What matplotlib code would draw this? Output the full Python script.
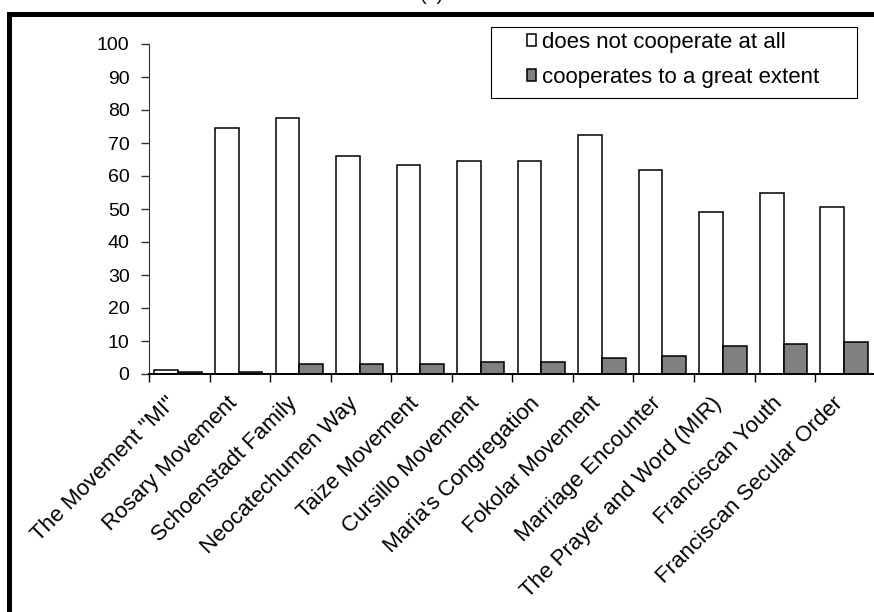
import matplotlib
matplotlib.use('Agg')
import matplotlib.pyplot as plt
import matplotlib.transforms as mtransforms
from matplotlib.patches import Rectangle
import numpy as np

plt.rcParams['font.family'] = ['Liberation Sans', 'DejaVu Sans']

movements = ['The Movement "MI"', 'Rosary Movement', 'Schoenstadt Family',
             'Neocatechumen Way', 'Taize Movement', 'Cursillo Movement',
             "Maria's Congregation", 'Fokolar Movement', 'Marriage Encounter',
             'The Prayer and Word (MIR)', 'Franciscan Youth', 'Franciscan Secular Order']
not_at_all = [1.2, 74.5, 77.5, 66.2, 63.2, 64.5, 64.5, 72.3, 61.9, 49.2, 54.7, 50.5]
great_extent = [0.7, 0.6, 3.0, 3.0, 3.0, 3.6, 3.6, 4.7, 5.4, 8.5, 9.1, 9.7]
series_names = ['does not cooperate at all', 'cooperates to a great extent']

W, H = 874, 612
fig = plt.figure(figsize=(W / 100, H / 100), dpi=100)
ax = fig.add_axes([149 / W, 1 - 374 / H, (875.6 - 149) / W, (374 - 44) / H])

x = np.arange(len(movements))
bw = 0.39
ax.bar(x - 0.215, not_at_all, bw, color='white', edgecolor='black', linewidth=1.1,
       label=series_names[0])
ax.bar(x + 0.175, great_extent, bw, color='#808080', edgecolor='black', linewidth=1.1,
       label=series_names[1])

ax.set_xlim(-0.5, len(movements) - 0.5)
ax.set_ylim(0, 100)
ax.set_yticks(range(0, 101, 10))
ax.tick_params(axis='y', direction='out', length=6, width=1, labelsize=14, pad=8,
               color='#333333')

# category names sit on the major ticks, the short tick marks are minor ticks between groups
ax.set_xticks(x)
ax.set_xticklabels(movements, rotation=45, ha='right', va='center',
                   rotation_mode='anchor', fontsize=16)
ax.tick_params(axis='x', which='major', length=0, pad=19)
shift = mtransforms.ScaledTranslation(-6 / 100, 0, fig.dpi_scale_trans)
for lab in ax.get_xticklabels():
    lab.set_transform(lab.get_transform() + shift)
ax.set_xticks(np.arange(-0.5, len(movements), 1), minor=True)
ax.tick_params(axis='x', which='minor', direction='out', length=6, width=1)

for s in ['top', 'right']:
    ax.spines[s].set_visible(False)
ax.spines['left'].set_color('#333333')
ax.spines['left'].set_linewidth(0.8)
ax.spines['bottom'].set_linewidth(1.4)

# legend entries without frame, box drawn separately (it is wider than the text)
leg = ax.legend(loc='upper left', bbox_to_anchor=(527 / W, 1 - 32 / H),
                bbox_transform=fig.transFigure, fontsize=16, frameon=False,
                handlelength=0.42, handleheight=0.42, handletextpad=0.27,
                labelspacing=0.62, borderpad=0, borderaxespad=0)
fig.add_artist(Rectangle((491 / W, 1 - 98 / H), 366 / W, 71 / H, transform=fig.transFigure,
                         fill=False, edgecolor='black', linewidth=0.8))

# outer chart frame and the panel title, which is cut off at the top in the original
fig.add_artist(Rectangle((8.5 / W, -0.1), 1.1, 1.1 - 14.5 / H, transform=fig.transFigure,
                         fill=False, edgecolor='black', linewidth=3.6))
fig.text(432 / W, 1.0, '(a)', ha='center', va='baseline', fontsize=14)

fig.savefig('out.png', dpi=100)
